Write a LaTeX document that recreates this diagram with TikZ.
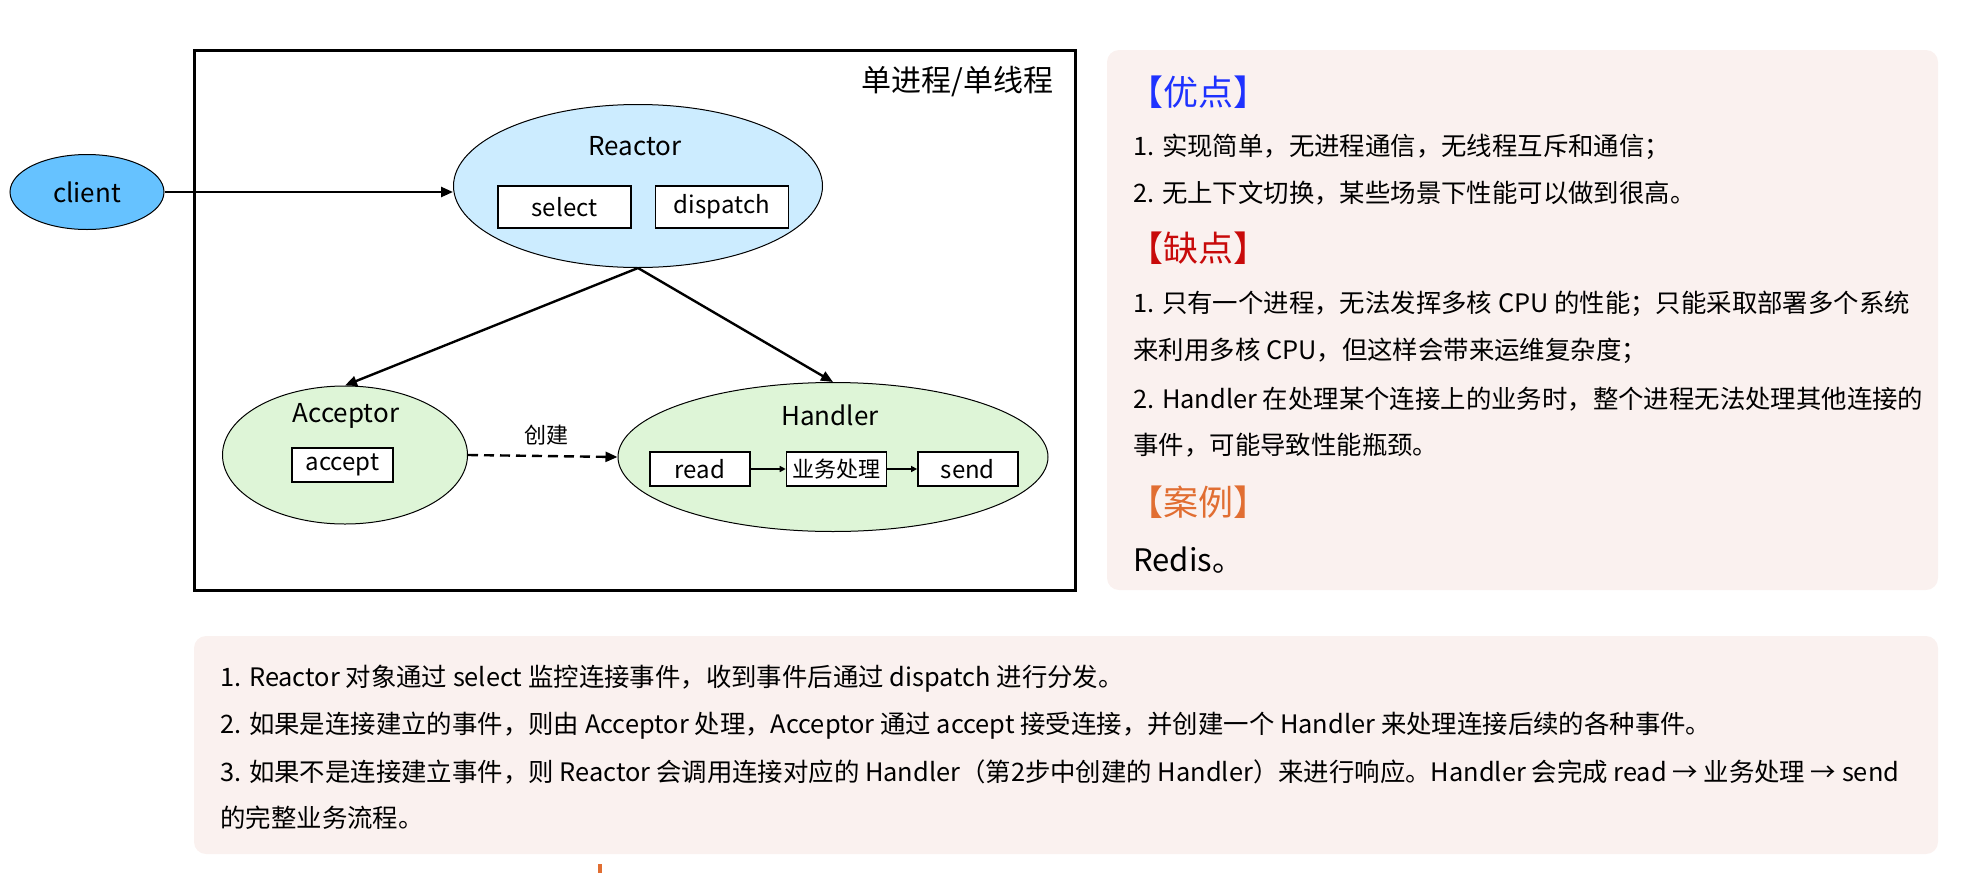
\documentclass[tikz,border=0pt]{standalone}
\usepackage{fontspec}
\setmainfont{Noto Sans CJK SC}
\usepackage{xcolor}
\usetikzlibrary{arrows.meta, positioning, shapes.geometric}

\definecolor{clientblue}{RGB}{102,194,255}
\definecolor{reactorblue}{RGB}{204,236,255}
\definecolor{workgreen}{RGB}{222,245,215}
\definecolor{notebg}{RGB}{250,241,239}
\definecolor{problue}{RGB}{30,50,255}
\definecolor{conred}{RGB}{200,10,10}
\definecolor{caseorange}{RGB}{225,110,50}

\begin{document}
\begin{tikzpicture}[x=0.5pt, y=-0.5pt,
    oval/.style={ellipse, draw, line width=0.5pt, inner sep=0pt},
    tag/.style={inner sep=0pt, font=\fontsize{13}{13}\selectfont},
    fnbox/.style={draw, fill=white, line width=0.7pt, minimum height=17pt, inner sep=0pt, font=\fontsize{12}{12}\selectfont},
    flow/.style={-{Triangle[length=6pt,width=5pt]}, line width=1.2pt},
    subflow/.style={-{Triangle[length=3pt,width=3pt]}, line width=0.8pt},
    txt/.style={anchor=west, inner sep=0pt, font=\fontsize{12.7}{13}\selectfont},
    head/.style={anchor=west, inner sep=0pt, font=\fontsize{17.5}{18}\selectfont}]

  \useasboundingbox (0,0) rectangle (1967,873);

  % single process frame
  \draw[line width=1.5pt] (194,50) rectangle (1075,590);
  \node[anchor=east, inner sep=0pt, font=\fontsize{15}{15}\selectfont] (title) at (1054,82) {单进程/单线程};

  \node[oval, fill=clientblue, minimum width=77pt, minimum height=37.5pt, font=\fontsize{13}{13}\selectfont] (client) at (87,192) {client};

  \node[oval, fill=reactorblue, minimum width=184.5pt, minimum height=81.5pt] (reactor) at (638,186) {};
  \node[tag] (reactor-name) at (635,146) {Reactor};
  \node[fnbox, minimum width=66.5pt, minimum height=21pt] (select) at (564.5,207) {select};
  \node[fnbox, minimum width=66.5pt, minimum height=21pt, right=11.5pt of select] (dispatch) {dispatch};

  \node[oval, fill=workgreen, minimum width=122.5pt, minimum height=69pt] (acceptor) at (345,455) {};
  \node[tag] (acceptor-name) at (346,416) {Acceptor};
  \node[fnbox, minimum width=50.5pt] (accept) at (342.5,465) {accept};

  \node[oval, fill=workgreen, minimum width=215pt, minimum height=74.5pt] (handler) at (833,457) {};
  \node[tag] (handler-name) at (830,415) {Handler};
  \node[fnbox, minimum width=50pt] (read) at (700,469) {read};
  \node[fnbox, minimum width=50pt, right=17.5pt of read, font=\fontsize{11}{11}\selectfont] (biz) {业务处理};
  \node[fnbox, minimum width=50pt, right=15pt of biz] (send) {send};

  \draw[flow] (client.east) -- (client.east -| reactor.west);
  \draw[flow] (reactor.south) -- (acceptor.north);
  \draw[flow] (reactor.south) -- (handler.north);
  \draw[flow, dash pattern=on 5pt off 3pt] (acceptor.east) -- (handler.west);
  \node[inner sep=0pt, font=\fontsize{11}{11}\selectfont] (create) at (546,435) {创建};
  \draw[subflow] (read) -- (biz);
  \draw[subflow] (biz) -- (send);

  % pros and cons
  \fill[notebg, rounded corners=6pt] (1107,50) rectangle (1938,590);
  \node[head, text=problue] (pros) at (1128,92) {【优点】};
  \foreach \y/\t [count=\i] in {147/{1. 实现简单，无进程通信，无线程互斥和通信；},
      193/{2. 无上下文切换，某些场景下性能可以做到很高。}}
    \node[txt] (pro\i) at (1133,\y) {\t};
  \node[head, text=conred] (cons) at (1128,248) {【缺点】};
  \foreach \y/\t [count=\i] in {304/{1. 只有一个进程，无法发挥多核 CPU 的性能；只能采取部署多个系统},
      351/{来利用多核 CPU，但这样会带来运维复杂度；},
      399/{2. Handler 在处理某个连接上的业务时，整个进程无法处理其他连接的},
      445/{事件，可能导致性能瓶颈。}}
    \node[txt] (con\i) at (1133,\y) {\t};
  \node[head, text=caseorange] (cases) at (1128,502) {【案例】};
  \node[anchor=west, inner sep=0pt, font=\fontsize{15.5}{16}\selectfont] (redis) at (1133,560) {Redis。};

  % steps
  \fill[notebg, rounded corners=6pt] (194,636) rectangle (1938,854);
  \foreach \y/\t [count=\i] in {679/{1. Reactor 对象通过 select 监控连接事件，收到事件后通过 dispatch 进行分发。},
      726/{2. 如果是连接建立的事件，则由 Acceptor 处理，Acceptor 通过 accept 接受连接，并创建一个 Handler 来处理连接后续的各种事件。},
      772/{3. 如果不是连接建立事件，则 Reactor 会调用连接对应的 Handler（第2步中创建的 Handler）来进行响应。Handler 会完成 read → 业务处理 → send},
      818/{的完整业务流程。}}
    \node[txt] (step\i) at (220,\y) {\t};

  \fill[caseorange] (598,864) rectangle (602,873);
\end{tikzpicture}
\end{document}
